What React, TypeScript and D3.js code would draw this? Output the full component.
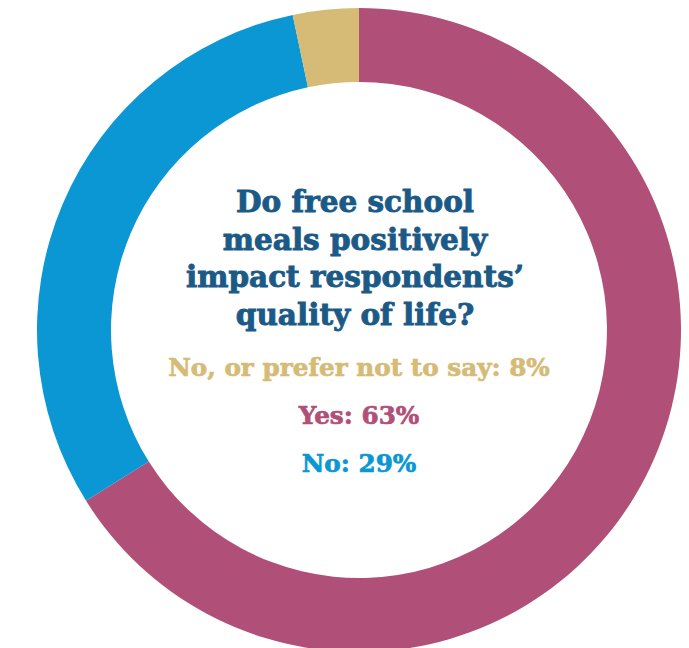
import { pie as d3_pie, arc as d3_arc } from "d3";

// slice shares as drawn in the ring (clockwise from 12 o'clock)
const categories = ["Yes", "No", "No, or prefer not to say"];
const arcShares = [66.1, 30.6, 3.3];
const colors = ["#b05078", "#0b97d4", "#d6bb77"];

// printed answers in the middle
const answerLabels = ["No, or prefer not to say: 8%", "Yes: 63%", "No: 29%"];
const answerColors = ["#d6bb77", "#b05078", "#0b97d4"];

const titleLines = [
  "Do free school",
  "meals positively",
  "impact respondents\u2019",
  "quality of life?",
];

const W = 689;
const H = 648;
const cx = 359;
const cy = 330;
const outerR = 322;
const innerR = 248;

export default function App() {
  const slices = d3_pie<number>().sort(null).value((d) => d)(arcShares);
  const arcGen = d3_arc<any>().innerRadius(innerR).outerRadius(outerR);

  return (
    <div style={{ position: "absolute", left: 0, top: 0 }}>
      <svg width={W} height={H} viewBox={`0 0 ${W} ${H}`}>
        <rect width={W} height={H} fill="#fff" />
        <g transform={`translate(${cx},${cy})`}>
          {slices.map((s, i) => (
            <path key={categories[i]} d={arcGen(s) ?? ""} fill={colors[i]} />
          ))}
        </g>

        {/* question */}
        <g
          fontFamily="'DejaVu Serif', serif"
          fontWeight="bold"
          fontSize={29.5}
          fill="#1b5a86"
          stroke="#1b5a86"
          strokeWidth={0.9}
          textAnchor="middle"
        >
          {titleLines.map((t, i) => (
            <text key={i} x={355} y={212 + i * 37.7}>
              {t}
            </text>
          ))}
        </g>

        {/* answers */}
        <g
          fontFamily="'DejaVu Serif', serif"
          fontWeight="bold"
          fontSize={24.7}
          strokeWidth={0.7}
          textAnchor="middle"
        >
          {answerLabels.map((t, i) => (
            <text
              key={i}
              x={359}
              y={376 + i * 48}
              fill={answerColors[i]}
              stroke={answerColors[i]}
            >
              {t}
            </text>
          ))}
        </g>
      </svg>
    </div>
  );
}
